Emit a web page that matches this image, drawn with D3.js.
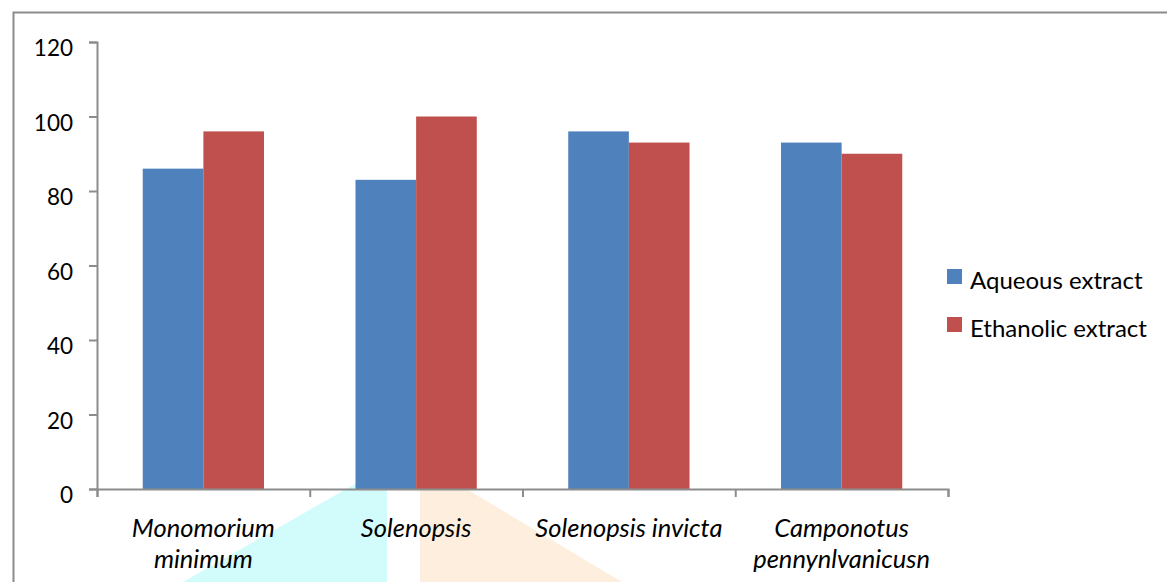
<!DOCTYPE html>
<html>
<head>
<meta charset="utf-8">
<script src="https://cdn.jsdelivr.net/npm/d3@7"></script>
<style>
  html, body { margin: 0; padding: 0; background: #fff; }
  svg { display: block; font-family: Lato, "Open Sans", sans-serif; }
</style>
</head>
<body>
<svg id="chart" width="1167" height="582"></svg>
<script>
// Ant species tested and the two extract series
const categories = [["Monomorium", "minimum"], ["Solenopsis"], ["Solenopsis invicta"], ["Camponotus", "pennynlvanicusn"]];
const seriesNames = ["Aqueous extract", "Ethanolic extract"];
const aqueous = [86, 83, 96, 93];
const ethanolic = [96, 100, 93, 90];
const yTicks = [0, 20, 40, 60, 80, 100, 120];
const colors = ["#4f81bd", "#c0504d"];

const svg = d3.select("#chart");
const W = 1167, H = 582;
const margin = { left: 97, top: 42, right: W - 948, bottom: H - 489 };

// faint background shapes at the lower edge
const bg = svg.append("g");
bg.append("polygon").attr("points", "183,582 355,484 387,484 387,582").attr("fill", "#d2fbfb");
bg.append("polygon").attr("points", "420,487 463,487 622,582 420,582").attr("fill", "#fdeedd");

// outer frame
svg.append("rect").attr("x", 13.5).attr("y", 12.5).attr("width", W).attr("height", H)
  .attr("fill", "none").attr("stroke", "#8c8c8c").attr("stroke-width", 2);

const x0 = d3.scaleBand().domain(d3.range(categories.length))
  .range([margin.left, W - margin.right]).paddingInner(0.43).paddingOuter(0.215);
const x1 = d3.scaleBand().domain(d3.range(seriesNames.length)).range([0, x0.bandwidth()]);
const y = d3.scaleLinear().domain([0, 120]).range([H - margin.bottom, margin.top]);

const data = categories.map((c, i) => [aqueous[i], ethanolic[i]]);

const groups = svg.append("g").selectAll("g").data(data).join("g")
  .attr("transform", (d, i) => `translate(${x0(i)},0)`);
groups.selectAll("rect").data(d => d).join("rect")
  .attr("x", (d, j) => x1(j))
  .attr("width", x1.bandwidth())
  .attr("y", d => y(d))
  .attr("height", d => y(0) - y(d))
  .attr("fill", (d, j) => colors[j]);

// y axis
const yAxis = svg.append("g").attr("transform", `translate(${margin.left},0)`)
  .call(d3.axisLeft(y).tickValues(yTicks).tickSize(8).tickPadding(16));
yAxis.select(".domain").attr("stroke", "#8c8c8c").attr("stroke-width", 2);
yAxis.selectAll(".tick line").attr("stroke", "#8c8c8c").attr("stroke-width", 2);
yAxis.selectAll(".tick text").attr("font-size", 22.5).attr("fill", "#000")
  .attr("font-family", "Lato, sans-serif").attr("dy", "0.6em");

// x axis with boundary ticks between categories
const xEdge = d3.scaleLinear().domain([0, categories.length]).range([margin.left, W - margin.right]);
const xAxis = svg.append("g").attr("transform", `translate(0,${y(0)})`)
  .call(d3.axisBottom(xEdge).ticks(categories.length).tickSize(8).tickFormat(""));
xAxis.select(".domain").attr("stroke", "#8c8c8c").attr("stroke-width", 2);
xAxis.selectAll(".tick line").attr("stroke", "#8c8c8c").attr("stroke-width", 2);

// category labels (italic, possibly two lines)
const labels = svg.append("g").selectAll("text").data(categories).join("text")
  .attr("x", (d, i) => x0(i) + x0.bandwidth() / 2)
  .attr("y", 537)
  .attr("text-anchor", "middle")
  .attr("font-size", 25.5)
  .attr("font-style", "italic")
  .attr("fill", "#000");
labels.selectAll("tspan").data(d => d).join("tspan")
  .attr("x", function () { return this.parentNode.getAttribute("x"); })
  .attr("dy", (d, k) => k === 0 ? 0 : 31)
  .text(d => d);

// legend
const legend = svg.append("g").selectAll("g").data(seriesNames).join("g")
  .attr("transform", (d, i) => `translate(947,${269 + i * 48})`);
legend.append("rect").attr("width", 15).attr("height", 15).attr("fill", (d, i) => colors[i]);
legend.append("text").attr("x", 23).attr("y", 19.5)
  .attr("font-size", 24).attr("fill", "#000").text(d => d);
</script>
</body>
</html>
